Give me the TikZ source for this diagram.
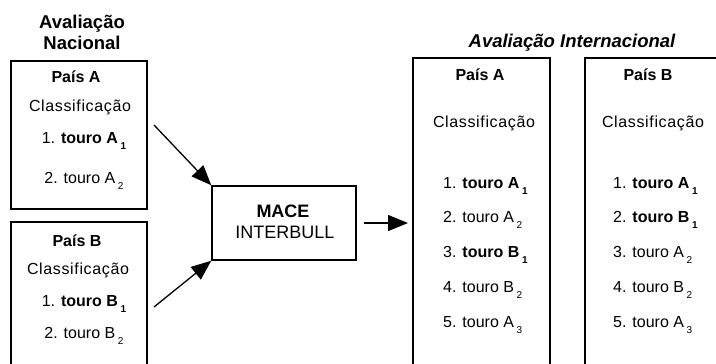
\documentclass[tikz,border=0pt]{standalone}
\usepackage{fontspec}
\setmainfont{Liberation Sans}
\usetikzlibrary{arrows.meta}
\newcommand\lowsub[1]{\,\raisebox{-0.7ex}{\fontsize{10}{10}\selectfont #1}}
\newcommand\clsf{{\addfontfeature{LetterSpace=4}Classificação}}
\begin{document}
\begin{tikzpicture}[x=1pt,y=-1pt,
  box/.style={draw,line width=1.5pt,inner sep=0pt},
  boxline/.style={line width=1.5pt},
  txt/.style={inner sep=0pt,font=\fontsize{16}{18}\selectfont},
  titletxt/.style={inner sep=0pt,align=center,font=\fontsize{18.5}{21}\selectfont\bfseries},
  itemL/.style={txt,anchor=west},
  conn/.style={line width=1.3pt,-{Triangle[length=20pt,width=16pt]}}]
\useasboundingbox (0,0) rectangle (716,364);
\clip (0,0) rectangle (716,364);
% boxes
\node[box,minimum width=136pt,minimum height=148pt] (na) at (79,135) {};
\draw[boxline] (11,370) |- (147,222) -- (147,370);
\node[box,minimum width=144pt,minimum height=74pt] (mace) at (284,223) {};
\draw[boxline] (413,370) |- (550,58) -- (550,370);
\coordinate (iaW) at (413,223);
\draw[boxline] (585,370) -- (585,58) -- (716,58);
% titles
\node[titletxt] (tn) at (82,32) {Avaliação\\Nacional};
\node[titletxt,font=\fontsize{18.5}{21}\selectfont\bfseries\itshape] (ti) at (572,43) {Avaliação Internacional};
% MACE
\node[inner sep=0pt,font=\fontsize{18}{20}\selectfont\bfseries] (m1) at (283,211) {MACE};
\node[inner sep=0pt,font=\fontsize{18}{20}\selectfont] (m2) at (285,232) {INTERBULL};
% national A
\node[txt,font=\fontsize{16}{18}\selectfont\bfseries] (naT) at (76,77) {País A};
\node[txt] (naC) at (80,107) {\clsf};
\node[txt] (na1) at (84,141) {1. \textbf{touro A\lowsub{1}}};
\node[txt] (na2) at (84,181) {2. touro A\lowsub{2}};
% national B
\node[txt,font=\fontsize{16}{18}\selectfont\bfseries] (nbT) at (77,241) {País B};
\node[txt] (nbC) at (78,270) {\clsf};
\node[txt] (nb1) at (84,304) {1. \textbf{touro B\lowsub{1}}};
\node[txt] (nb2) at (84,336) {2. touro B\lowsub{2}};
% international A
\node[txt,font=\fontsize{16}{18}\selectfont\bfseries] (iaT) at (480,75) {País A};
\node[txt] (iaC) at (484,123) {\clsf};
\node[itemL] (ia1) at (443,186) {1. \textbf{touro A\lowsub{1}}};
\node[itemL] (ia2) at (443,220) {2. touro A\lowsub{2}};
\node[itemL] (ia3) at (443,255) {3. \textbf{touro B\lowsub{1}}};
\node[itemL] (ia4) at (443,290) {4. touro B\lowsub{2}};
\node[itemL] (ia5) at (443,325) {5. touro A\lowsub{3}};
% international B
\node[txt,font=\fontsize{16}{18}\selectfont\bfseries] (ibT) at (648,75) {País B};
\node[txt] (ibC) at (653,123) {\clsf};
\node[itemL] (ib1) at (613,186) {1. \textbf{touro A\lowsub{1}}};
\node[itemL] (ib2) at (613,220) {2. \textbf{touro B\lowsub{1}}};
\node[itemL] (ib3) at (613,255) {3. touro A\lowsub{2}};
\node[itemL] (ib4) at (613,290) {4. touro B\lowsub{2}};
\node[itemL] (ib5) at (613,325) {5. touro A\lowsub{3}};
% connectors
\coordinate (s1) at (154,125);
\coordinate (s2) at (154,307);
\draw[conn] (s1) -- (mace.north west);
\draw[conn] (s2) -- (mace.south west);
\draw[conn,shorten <=7pt,shorten >=5pt] (mace.east) -- (iaW);
\end{tikzpicture}
\end{document}
